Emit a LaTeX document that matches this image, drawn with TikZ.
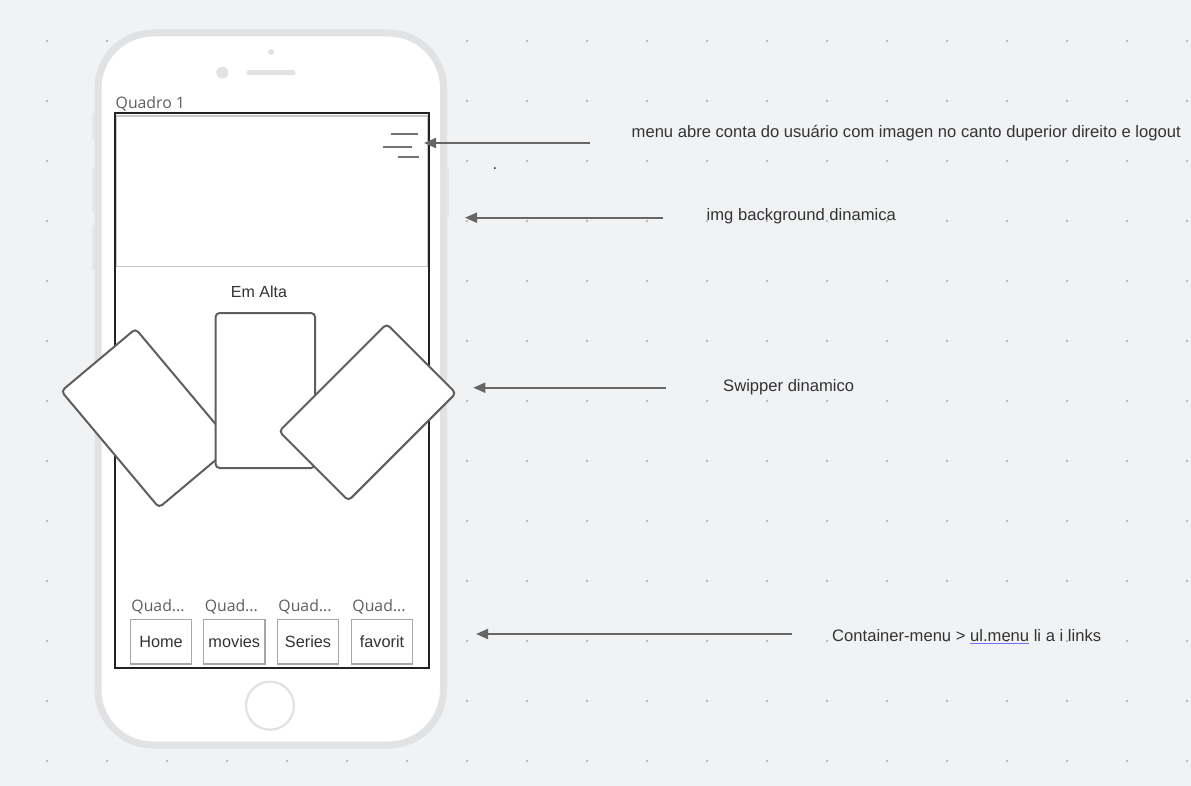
\documentclass[tikz,border=0pt]{standalone}
\usepackage{fontspec}
\setmainfont{Liberation Sans}
\newfontfamily\labelfont{Open Sans}
\usetikzlibrary{arrows.meta}
\definecolor{bgc}{HTML}{F1F2F4}
\definecolor{griddot}{HTML}{B6B8BB}
\definecolor{shell}{HTML}{E1E2E4}
\definecolor{sidekeyc}{HTML}{E6E7E9}
\definecolor{ink}{HTML}{333333}
\definecolor{cardline}{HTML}{5E5E5E}
\definecolor{arrowc}{HTML}{666666}
\definecolor{boxline}{HTML}{A4A8AE}
\definecolor{linkblue}{HTML}{6E6EFF}
\definecolor{quadc}{HTML}{5F5F5F}
\definecolor{burger}{HTML}{737373}
\definecolor{sepline}{HTML}{C6C7C9}
\definecolor{screenline}{HTML}{222222}
% text with a thin blue rule beneath it
\newcommand{\bluelink}[1]{\setbox0\hbox{#1}\rlap{\textcolor{linkblue}{\rule[-2.8pt]{\wd0}{1.2pt}}}\box0\relax}

\begin{document}
\begin{tikzpicture}[x=1pt,y=-1pt,
  note/.style={font=\fontsize{16.6}{20}\selectfont, text=ink, inner sep=0pt, anchor=west},
  card/.style={draw=cardline, line width=2pt, fill=white, rounded corners=4pt, inner sep=0pt},
  navbox/.style={draw=boxline, line width=1.2pt, fill=white, minimum width=61.5pt,
                 minimum height=44.5pt, inner sep=0pt, font=\fontsize{16.3}{19}\selectfont, text=ink},
  quad/.style={font=\labelfont\fontsize{15.8}{18}\selectfont, text=quadc, inner sep=0pt},
  pointer/.style={draw=arrowc, line width=2pt, -{Triangle[length=12pt,width=10pt]}},
  sidekey/.style={fill=sidekeyc},
]
% canvas and dotted grid
\useasboundingbox (0,0) rectangle (1191,786);
\fill[bgc] (0,0) rectangle (1191,786);
\foreach \gx in {47,107,...,1187}
  \foreach \gy in {41,101,...,761}
    \fill[griddot] (\gx,\gy) circle (1.4pt);

% side keys of the handset
\fill[sidekey] (92,113) rectangle (97,139);
\fill[sidekey] (92,168) rectangle (97,213);
\fill[sidekey] (92,225) rectangle (97,270);
\fill[sidekey] (444,168) rectangle (449,218);

% handset body
\draw[draw=shell, line width=7pt, fill=white, rounded corners=55pt] (98,33) rectangle (443.5,745);
\fill[shell] (271,52) circle (3pt);
\fill[shell] (222.3,72.7) circle (6pt);
\draw[shell, line width=5pt, line cap=round] (249,73) -- (293,73);
\draw[shell, line width=2.2pt] (270,705.7) circle (24pt);

% screen frame
\node[quad, anchor=base west] (frame) at (115.5,108.5) {Quadro 1};
\fill[white] (115,113.5) rectangle (429,668);
\draw[sepline, line width=1.5pt] (116.5,116) rectangle (427.5,266.5);
\draw[screenline, line width=2pt] (115,113.5) rectangle (429,668);

% hamburger menu icon
\draw[burger, line width=2pt] (391,134.3) -- (418.3,134.3);
\draw[burger, line width=2pt] (382.7,146.7) -- (412,146.7);
\draw[burger, line width=2pt] (397.7,157.3) -- (419,157.3);
\coordinate (menuicon) at (424,143);

% trending carousel
\node[font=\fontsize{16}{19}\selectfont, text=ink, inner sep=0pt] (emalta) at (259,292) {Em Alta};
\node[card, minimum width=97pt, minimum height=152pt, rotate=40] (cardL) at (147.3,418.2) {};
\node[card, minimum width=99.5pt, minimum height=155pt] (cardC) at (265.3,390.5) {};
\node[card, minimum width=98pt, minimum height=152pt, rotate=-45] (cardR) at (367.5,412.3) {};

% bottom navigation
\node[navbox] (nav1) at (161,641.7) {Home};
\node[navbox] (nav2) at (234.3,641.7) {movies};
\node[navbox] (nav3) at (308,641.7) {Series};
\node[navbox] (nav4) at (382,641.7) {favorit};
\foreach \n/\xx in {1/158,2/231.3,3/305,4/379}
  \node[quad] (q\n) at (\xx,606.5) {Quad...};

% annotations
\node[note] (t1) at (631.5,133.5) {menu abre conta do usuário com imagen no canto duperior direito e logout};
\node[font=\fontsize{16.5}{20}\selectfont, text=ink, inner sep=0pt] (mark) at (495,168.5) {.};
\node[note] (t2) at (706.5,216) {img background dinamica};
\node[note] (t3) at (723,387.3) {Swipper dinamico};
\node[note] (t4) at (832,636.5) {Container-menu > \bluelink{ul.menu} li a i links};

% pointers
\coordinate (a1) at (590,143);
\coordinate (a2) at (663,217.7);
\coordinate (b2) at (465,217.7);
\coordinate (a3) at (666,387.7);
\coordinate (b3) at (473.3,387.7);
\coordinate (a4) at (791.7,634);
\coordinate (b4) at (476,634);
\draw[pointer] (a1) -- (menuicon);
\draw[pointer] (a2) -- (b2);
\draw[pointer] (a3) -- (b3);
\draw[pointer] (a4) -- (b4);
\end{tikzpicture}
\end{document}
